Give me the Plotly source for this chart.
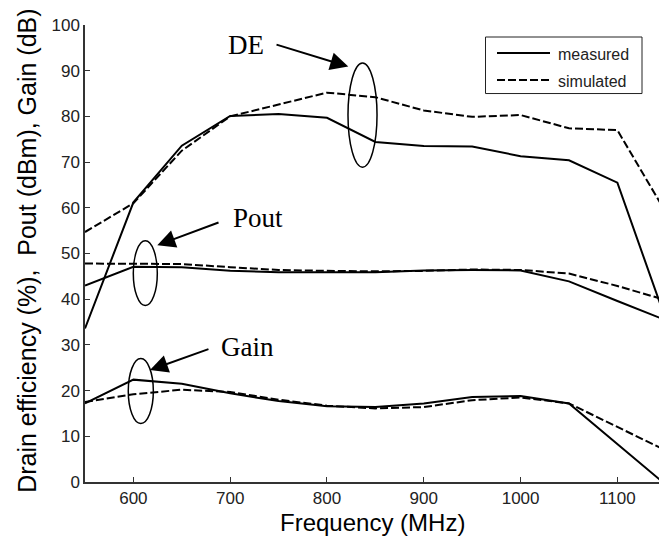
import plotly.graph_objects as go

freq = [550, 600, 650, 700, 750, 800, 850, 900, 950, 1000, 1050, 1100, 1150]

de_measured = [33.6, 61.2, 73.6, 80.1, 80.5, 79.7, 74.4, 73.5, 73.4, 71.3, 70.4, 65.5, 35.5]
de_simulated = [54.7, 61.0, 72.5, 80.0, 82.6, 85.2, 84.2, 81.3, 79.9, 80.3, 77.4, 77.0, 59.0]

pout_measured = [43.0, 47.1, 47.0, 46.2, 45.9, 45.9, 45.9, 46.3, 46.4, 46.3, 43.9, 39.6, 35.4]
pout_simulated = [47.8, 47.8, 47.7, 47.0, 46.4, 46.2, 46.1, 46.2, 46.5, 46.4, 45.6, 42.9, 39.8]

gain_measured = [17.2, 22.4, 21.5, 19.4, 17.7, 16.6, 16.4, 17.2, 18.6, 18.8, 17.2, 8.3, -0.6]
gain_simulated = [17.5, 19.2, 20.2, 19.7, 18.0, 16.7, 16.1, 16.4, 17.9, 18.5, 17.2, 12.0, 6.9]

x_ticks = [600, 700, 800, 900, 1000, 1100]
y_ticks = [0, 10, 20, 30, 40, 50, 60, 70, 80, 90, 100]

legend_names = ["measured", "simulated"]

SANS = "Liberation Sans, Arial, sans-serif"
SERIF = "Liberation Serif, Times New Roman, serif"
INK = "#000000"
AXC = "#333333"
DASH = "8px,3px"

fig = go.Figure()

series = [
    (de_measured, "solid", "measured"),
    (de_simulated, DASH, "simulated"),
    (pout_measured, "solid", "measured"),
    (pout_simulated, DASH, "simulated"),
    (gain_measured, "solid", "measured"),
    (gain_simulated, DASH, "simulated"),
]
for vals, dash, name in series:
    fig.add_trace(go.Scatter(
        x=freq, y=vals, mode="lines", name=name, showlegend=False,
        line=dict(color=INK, width=2, dash=dash),
    ))

# ellipses
ellipses = [
    (821.7, 851.7, 68.9, 91.7),
    (599.9, 624.7, 38.6, 52.8),
    (594.7, 620.6, 12.8, 27.0),
]
for x0, x1, y0, y1 in ellipses:
    fig.add_shape(type="circle", xref="x", yref="y", x0=x0, x1=x1, y0=y0, y1=y1,
                  line=dict(color=INK, width=1.5))

# arrows
arrows = [
    ((746.3, 95.8), (822.0, 90.9)),
    ((689.5, 56.9), (624.7, 51.8)),
    ((679.1, 29.2), (617.1, 24.5)),
]
for (tx, ty), (hx, hy) in arrows:
    fig.add_annotation(x=hx, y=hy, ax=tx, ay=ty, xref="x", yref="y", axref="x", ayref="y",
                       text="", showarrow=True, arrowhead=2, arrowsize=1.8, arrowwidth=2,
                       arrowcolor=INK)

labels = [("DE", 716.0, 95.6), ("Pout", 729.0, 57.7), ("Gain", 718.0, 29.5)]
for t, x, y in labels:
    fig.add_annotation(x=x, y=y, xref="x", yref="y", text=t, showarrow=False,
                       font=dict(family=SERIF, size=27, color=INK),
                       xanchor="center", yanchor="middle")

# legend box (drawn in paper coordinates)
PW, PH, L, T = 574.0, 456.7, 85.0, 25.0
def px(xp):
    return (xp - L) / PW
def py(yp):
    return 1 - (yp - T) / PH

fig.add_shape(type="rect", xref="paper", yref="paper",
              x0=px(485.5), x1=px(642), y0=py(37), y1=py(93.5),
              line=dict(color="#222222", width=1), fillcolor="white", layer="above")
for i, (nm, dash) in enumerate(zip(legend_names, ["solid", DASH])):
    yy = 53 + i * 27
    fig.add_shape(type="line", xref="paper", yref="paper",
                  x0=px(497), x1=px(550), y0=py(yy), y1=py(yy),
                  line=dict(color=INK, width=2, dash=dash), layer="above")
    fig.add_annotation(x=px(556), y=py(yy + 1.5), xref="paper", yref="paper", text=nm,
                       showarrow=False, xanchor="left", yanchor="middle",
                       font=dict(family=SANS, size=16, color="#222222"))

# axis titles
fig.add_annotation(x=0.5, y=-0.088, xref="paper", yref="paper", text="Frequency (MHz)",
                   showarrow=False, font=dict(family=SANS, size=24, color=INK),
                   xanchor="center", yanchor="middle")
fig.add_annotation(x=-0.1, y=0.505, xref="paper", yref="paper",
                   text="Drain efficiency (%),  Pout (dBm), Gain (dB)", textangle=-90,
                   showarrow=False, font=dict(family=SANS, size=25, color=INK),
                   xanchor="center", yanchor="middle")

fig.update_layout(
    width=659, height=541,
    margin=dict(l=85, r=0, t=25, b=59, pad=0),
    paper_bgcolor="white", plot_bgcolor="white",
    font=dict(family=SANS, size=17, color="#222222"),
    showlegend=False,
    xaxis=dict(range=[550, 1143], tickvals=x_ticks, ticks="inside", ticklen=5,
               tickcolor=AXC, showline=True, linecolor=AXC, linewidth=1.5,
               showgrid=False, zeroline=False, tickfont=dict(size=17)),
    yaxis=dict(range=[0, 100], tickvals=y_ticks, ticks="inside", ticklen=5,
               tickcolor=AXC, showline=True, linecolor=AXC, linewidth=1.5,
               showgrid=False, zeroline=False, tickfont=dict(size=17)),
)

fig.write_html("out.html")
